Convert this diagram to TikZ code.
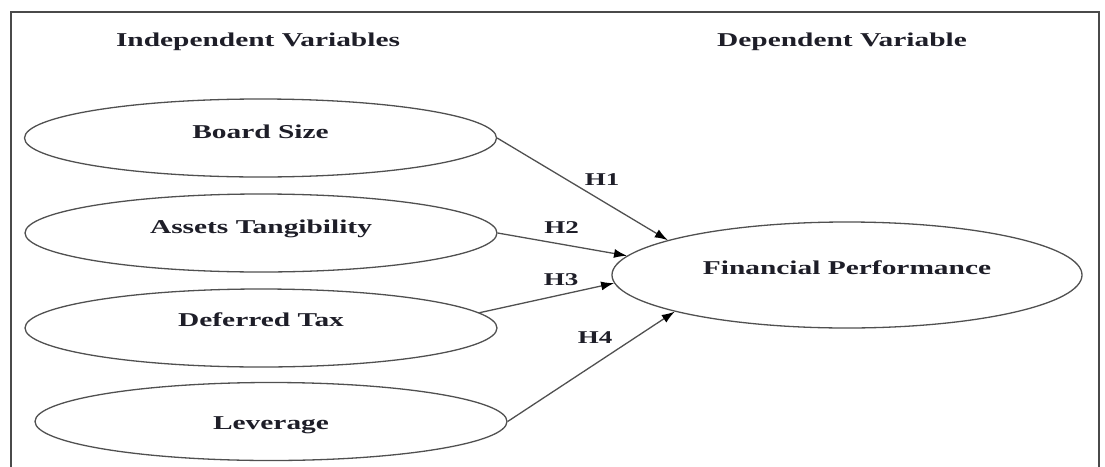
\documentclass[tikz,border=0pt]{standalone}
\usepackage{fontspec}
\setmainfont{Liberation Serif}
\usetikzlibrary{shapes.geometric,arrows.meta}
\definecolor{linegray}{HTML}{505050}
\definecolor{framegray}{HTML}{4A4A4A}
\definecolor{txtcol}{HTML}{1E1E28}
\newcommand\wide[1]{\scalebox{1.5}[1]{#1}}
\begin{document}
\begin{tikzpicture}[x=1pt,y=-1pt,
  txt/.style={font=\fontsize{19.6}{22}\selectfont\bfseries, text=txtcol},
  hlab/.style={font=\fontsize{18}{20}\selectfont\bfseries, text=txtcol, anchor=base, inner sep=0pt},
  var/.style={ellipse, draw=linegray, line width=1.3pt, inner sep=0pt,
    minimum width=472pt, minimum height=78pt, txt},
  hyp/.style={draw=linegray, line width=1.3pt, -{Latex[length=13pt,width=9pt,color=black]}},
]
\useasboundingbox (0,0) rectangle (1105,466);
\draw[framegray, line width=2.2pt] (11,470) -- (11,12) -- (1099,12) -- (1099,470);

\node[txt, anchor=base, inner sep=0pt] (indep) at (258,46.5) {\wide{Independent Variables}};
\node[txt, anchor=base, inner sep=0pt] (dep) at (842,46.5) {\wide{Dependent Variable}};

\node[var, text height=10pt, text depth=10pt] (bs) at (260.5,138) {\wide{Board Size}};
\node[var, text height=10pt, text depth=10pt] (at) at (261,233) {\wide{Assets Tangibility}};
\node[var, text height=8pt, text depth=12pt] (dt) at (261,328) {\wide{Deferred Tax}};
\node[var, text height=17pt, text depth=2pt] (lev) at (271,421.5) {\wide{Leverage}};
\node[var, minimum width=470pt, minimum height=106pt, text height=9pt, text depth=11pt] (fp) at (847,275) {\wide{Financial Performance}};

\draw[hyp] (bs.east) -- (fp.169);
\draw[hyp] (at.east) -- (fp.175.5);
\draw[hyp] (dt.4) -- (fp.182);
\draw[hyp] (lev.east) -- (fp.192.5);

\node[hlab] (h1) at (602,185) {\wide{H1}};
\node[hlab] (h2) at (561.5,233) {\wide{H2}};
\node[hlab] (h3) at (561,285) {\wide{H3}};
\node[hlab] (h4) at (595,343) {\wide{H4}};
\end{tikzpicture}
\end{document}
